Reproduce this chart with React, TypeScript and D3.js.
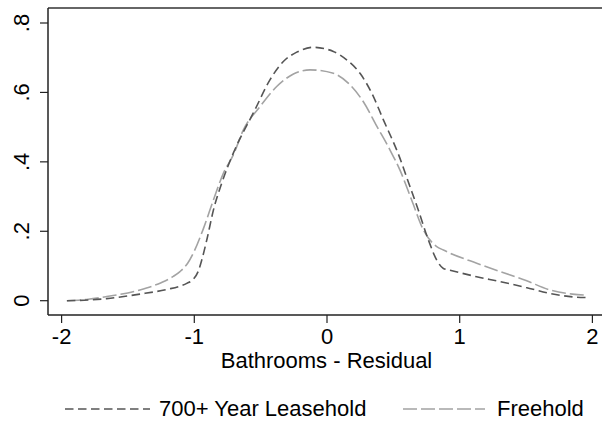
import React from "react";
import * as d3 from "d3";

const leaseX = [-1.96, -1.8, -1.66, -1.41, -1.2, -1.108, -1.057, -1.007, -0.97, -0.944, -0.906, -0.856, -0.794, -0.706, -0.543, -0.43, -0.329, -0.228, -0.103, 0.048, 0.148, 0.249, 0.337, 0.425, 0.54, 0.625, 0.688, 0.764, 0.827, 0.877, 0.927, 1.128, 1.304, 1.5, 1.68, 1.85, 1.957];
const leaseY = [0, 0.002, 0.006, 0.019, 0.033, 0.042, 0.05, 0.062, 0.085, 0.117, 0.175, 0.261, 0.338, 0.425, 0.55, 0.636, 0.689, 0.716, 0.73, 0.718, 0.694, 0.655, 0.598, 0.521, 0.42, 0.329, 0.261, 0.175, 0.117, 0.093, 0.088, 0.069, 0.055, 0.038, 0.021, 0.011, 0.009];

const freeX = [-1.96, -1.8, -1.66, -1.41, -1.25, -1.158, -1.108, -1.05, -1.0, -0.932, -0.856, -0.781, -0.706, -0.63, -0.505, -0.379, -0.253, -0.128, 0.048, 0.173, 0.274, 0.375, 0.475, 0.55, 0.638, 0.726, 0.827, 0.877, 0.927, 1.128, 1.304, 1.5, 1.68, 1.85, 1.957];
const freeY = [0, 0.004, 0.012, 0.031, 0.052, 0.07, 0.084, 0.108, 0.143, 0.207, 0.29, 0.367, 0.42, 0.492, 0.559, 0.617, 0.653, 0.665, 0.655, 0.622, 0.573, 0.503, 0.434, 0.376, 0.29, 0.204, 0.156, 0.146, 0.137, 0.108, 0.084, 0.058, 0.031, 0.019, 0.016];

const xTicks = [-2, -1, 0, 1, 2];
const yTicks = [0, 0.2, 0.4, 0.6, 0.8];
const yTickLabels = ["0", ".2", ".4", ".6", ".8"];
const seriesNames = ["700+ Year Leasehold", "Freehold"];
const xTitle = "Bathrooms - Residual";

const W = 602;
const H = 423;
const FONT = "'Liberation Sans', Arial, sans-serif";
const FS = 22;

export default function App() {
  const x = d3.scaleLinear().domain([-2, 2]).range([61.6, 592.4]);
  const y = d3.scaleLinear().domain([0, 0.8]).range([300.7, 23]);
  const left = 48, top = 8, bottom = 315, right = 602;

  const line = d3
    .line<[number, number]>()
    .x((d) => x(d[0]))
    .y((d) => y(d[1]))
    .curve(d3.curveMonotoneX);

  const leasePts: [number, number][] = leaseX.map((v, i) => [v, leaseY[i]]);
  const freePts: [number, number][] = freeX.map((v, i) => [v, freeY[i]]);

  const darkC = "#555555";
  const lightC = "#a3a3a3";
  const darkDash = "8.5,4.5";
  const lightDash = "14,4";
  const sw = 1.6;

  return (
    <svg width={W} height={H} style={{ position: "absolute", left: 0, top: 0, background: "#fff" }} fontFamily={FONT}>
      <rect x={0} y={0} width={W} height={H} fill="#fff" />
      <line x1={left} y1={top} x2={right} y2={top} stroke="#333" strokeWidth={1.5} />
      <line x1={left} y1={top} x2={left} y2={bottom} stroke="#222" strokeWidth={1.5} />
      <line x1={left} y1={bottom} x2={right} y2={bottom} stroke="#222" strokeWidth={1.5} />
      {yTicks.map((t, i) => (
        <g key={"y" + i}>
          <line x1={40} x2={left} y1={y(t)} y2={y(t)} stroke="#222" strokeWidth={1.2} />
          <text
            transform={`translate(${28.5},${y(t)}) rotate(-90)`}
            textAnchor="middle"
            fontSize={FS}
            fill="#000"
          >
            {yTickLabels[i]}
          </text>
        </g>
      ))}
      {xTicks.map((t, i) => (
        <g key={"x" + i}>
          <line x1={x(t)} x2={x(t)} y1={bottom} y2={323} stroke="#222" strokeWidth={1.2} />
          <text x={x(t)} y={344} textAnchor="middle" fontSize={FS} fill="#000">
            {String(t)}
          </text>
        </g>
      ))}
      <text x={326.5} y={368} textAnchor="middle" fontSize={FS} fill="#000">
        {xTitle}
      </text>
      <path d={line(freePts) || ""} fill="none" stroke={lightC} strokeWidth={sw} strokeDasharray={lightDash} />
      <path d={line(leasePts) || ""} fill="none" stroke={darkC} strokeWidth={sw} strokeDasharray={darkDash} />
      <line x1={65} x2={150} y1={409} y2={409} stroke={darkC} strokeWidth={sw} strokeDasharray={darkDash} />
      <text x={159} y={416} fontSize={FS} fill="#000">
        {seriesNames[0]}
      </text>
      <line x1={403} x2={485} y1={409} y2={409} stroke={lightC} strokeWidth={sw} strokeDasharray={lightDash} />
      <text x={497} y={416} fontSize={FS} fill="#000">
        {seriesNames[1]}
      </text>
    </svg>
  );
}
